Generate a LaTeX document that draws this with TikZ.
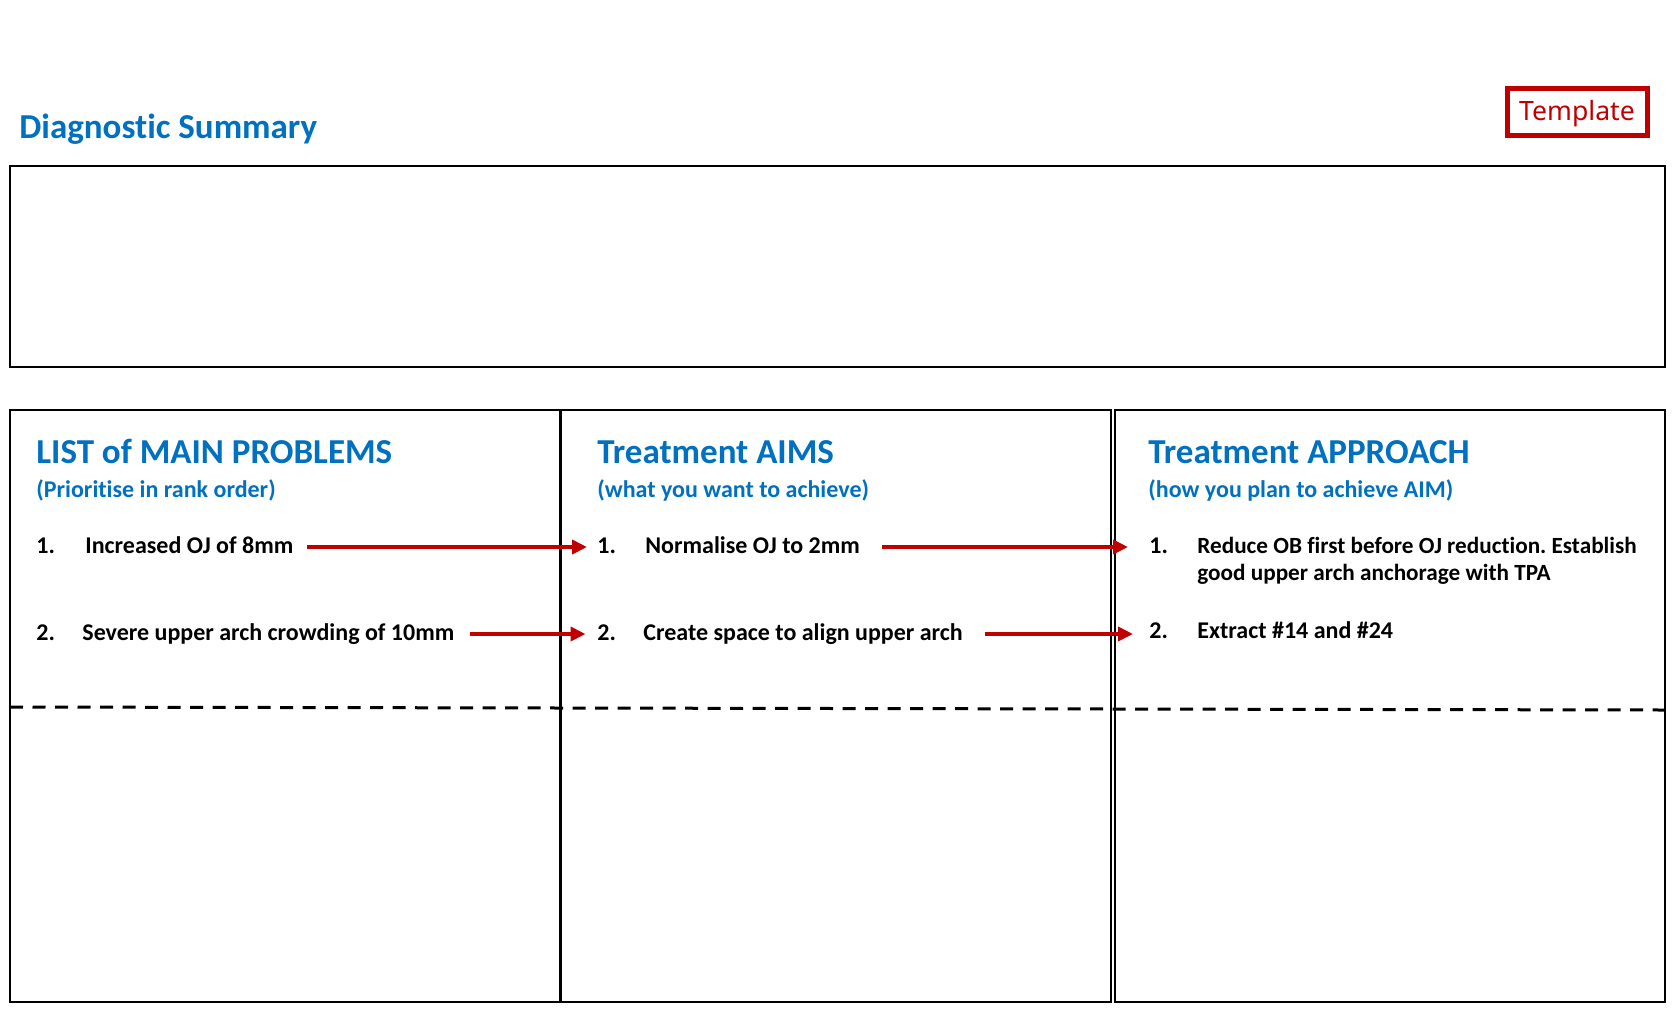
\documentclass[tikz,border=0pt]{standalone}
\usepackage{fontspec}
\setmainfont{Carlito}[Ligatures=NoCommon]
\newfontfamily\tmplfont{Noto Sans}
\usetikzlibrary{arrows.meta}
\definecolor{headblue}{RGB}{0,112,192}
\definecolor{arrowred}{RGB}{192,0,0}
\tikzset{
  heading/.style={anchor=base west,inner sep=0pt,text=headblue,font=\fontsize{17.5}{21}\selectfont\bfseries},
  subheading/.style={anchor=base west,inner sep=0pt,text=headblue,font=\fontsize{12}{15}\selectfont\bfseries},
  itemtext/.style={anchor=base west,inner sep=0pt,font=\fontsize{12}{13.75}\selectfont\bfseries\frenchspacing},
  item/.style={itemtext,text height=6pt,text depth=0pt},
  redarrow/.style={draw=arrowred,line width=2pt,-{Triangle[length=7.5pt,width=7pt]}},
}
\begin{document}
\begin{tikzpicture}[x=0.5pt,y=-0.5pt]
\useasboundingbox (0,0) rectangle (1680,1023);

% Title
\node[heading] (title) at (19,138) {Diagnostic Summary};
% Template tag
\node[draw=arrowred,line width=2.5pt,minimum width=70pt,minimum height=23.5pt,inner sep=0pt,
      text height=9.5pt,text depth=1.25pt,
      text=arrowred,font=\tmplfont\fontsize{13.3}{16}\selectfont] (tmpl) at (1577,112) {Template};

%Shape: Rectangle (summary box)
\draw[line width=1pt] (9.5,166) rectangle (1665,367);

%Shape: Rectangles (three columns)
\draw[line width=1pt] (9.5,410) rectangle (560,1002);
\draw[line width=1pt] (561,410) rectangle (1111,1002);
\draw[line width=1pt] (1115,410) rectangle (1665,1002);
%Straight Lines (dashed)
\draw[line width=1.5pt,dash pattern=on 6.5pt off 4.75pt] (10,707) -- (1665,710);

% Text Node
\node[heading] (h1) at (36,463) {LIST of MAIN PROBLEMS};
\node[subheading] (s1) at (36,497) {(Prioritise in rank order)};
% Text Node
\node[heading] (h2) at (597,463) {Treatment AIMS};
\node[subheading] (s2) at (597,497) {(what you want to achieve)};
% Text Node
\node[heading] (h3) at (1148,463) {Treatment APPROACH};
\node[subheading] (s3) at (1148,497) {(how you plan to achieve AIM)};

% Text Node
\node[item] (p1n) at (36,553) {1.};
\node[item] (p1) at (85,553) {Increased OJ of 8mm};
\node[item] (p2n) at (36,640) {2.};
\node[item] (p2) at (82,640) {Severe upper arch crowding of 10mm};
% Text Node
\node[item] (a1n) at (597,553) {1.};
\node[item] (a1) at (645,553) {Normalise OJ to 2mm};
\node[item] (a2n) at (597,640) {2.};
\node[item] (a2) at (643,640) {Create space to align upper arch};
% Text Node (base = last line)
\node[item] (r1n) at (1149,553) {1.};
\node[itemtext,align=left,font=\fontsize{11.6}{13.75}\selectfont\bfseries\frenchspacing] (r1) at (1197,580.5) {Reduce OB first before OJ reduction. Establish\\good upper arch anchorage with TPA};
\node[item] (r2n) at (1149,638) {2.};
\node[item] (r2) at (1197,638) {Extract \#14 and \#24};

%Straight Lines (arrows)
\draw[redarrow,shorten <=6.5pt,shorten >=5pt] (p1.east) -- (a1n.west);
\draw[redarrow,shorten <=7.5pt,shorten >=5.75pt] (p2.east) -- (a2n.west);
\draw[redarrow,shorten <=11pt,shorten >=10.5pt] (a1.east) -- (r1n.west);
\draw[redarrow,shorten <=10.75pt,shorten >=8pt] (a2.east) -- (a2.east -| r2n.west);

\end{tikzpicture}
\end{document}
